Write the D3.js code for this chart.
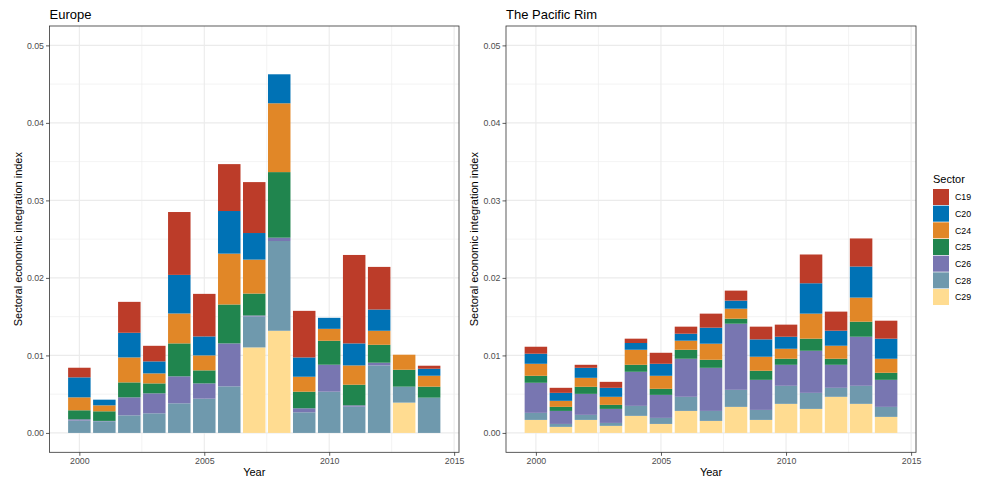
<!DOCTYPE html>
<html>
<head>
<meta charset="utf-8">
<script src="https://cdn.jsdelivr.net/npm/d3@7"></script>
<style>
  body { margin: 0; background: #fff; }
  svg { font-family: "Liberation Sans", Arial, Helvetica, sans-serif; display: block; }
</style>
</head>
<body>
<div id="chart"></div>
<script>
const YEARS = [2000, 2001, 2002, 2003, 2004, 2005, 2006, 2007, 2008, 2009, 2010, 2011, 2012, 2013, 2014];
const SECTORS = ["C19", "C20", "C24", "C25", "C26", "C28", "C29"];
const SECTOR_COLORS = ["#BC3C29", "#0072B5", "#E18727", "#20854E", "#7876B1", "#6F99AD", "#FFDC91"];
const Y_TICKS = [0, 0.01, 0.02, 0.03, 0.04, 0.05];
const X_TICKS = [2000, 2005, 2010, 2015];

// segment values per sector, one entry per year
const EUROPE_C19 = [0.00124, 0, 0.00399, 0.00201, 0.00811, 0.00549, 0.00605, 0.00657, 0, 0.00601, 0, 0.01141, 0.0055, 0, 0.00039];
const EUROPE_C20 = [0.00258, 0.00073, 0.00318, 0.00155, 0.00498, 0.00245, 0.0055, 0.00343, 0.00374, 0.00249, 0.00142, 0.00284, 0.00274, 0, 0.0009];
const EUROPE_C24 = [0.00167, 0.00077, 0.00322, 0.00129, 0.00386, 0.00193, 0.00656, 0.00438, 0.00888, 0.00193, 0.00154, 0.00249, 0.00181, 0.00194, 0.00141];
const EUROPE_C25 = [0.00116, 0.00124, 0.00193, 0.00128, 0.00425, 0.00168, 0.00502, 0.00283, 0.00846, 0.00214, 0.00309, 0.00266, 0.00231, 0.00218, 0.00142];
const EUROPE_C26 = [0.00017, 0.00005, 0.00232, 0.00258, 0.00348, 0.00197, 0.00554, 0.00013, 0.00043, 0.00052, 0.00348, 0.00017, 0.00035, 0, 0];
const EUROPE_C28 = [0.00159, 0.0015, 0.00227, 0.00253, 0.00382, 0.00442, 0.00601, 0.00399, 0.01158, 0.00266, 0.00532, 0.00339, 0.00871, 0.00206, 0.00455];
const EUROPE_C29 = [0, 0, 0, 0, 0, 0, 0, 0.01103, 0.01318, 0, 0, 0, 0, 0.00391, 0];

const PACIFIC_C19 = [0.0009, 0.00065, 0.00039, 0.00077, 0.00056, 0.00142, 0.00091, 0.00181, 0.00129, 0.00164, 0.00156, 0.00371, 0.00246, 0.00362, 0.00232];
const PACIFIC_C20 = [0.0013, 0.00103, 0.00129, 0.00116, 0.00087, 0.00155, 0.0009, 0.00207, 0.00104, 0.00224, 0.00155, 0.00392, 0.00194, 0.00401, 0.00259];
const PACIFIC_C24 = [0.00155, 0.00078, 0.00116, 0.00104, 0.00194, 0.00168, 0.00117, 0.00207, 0.00129, 0.00181, 0.00129, 0.00323, 0.00168, 0.00311, 0.00181];
const PACIFIC_C25 = [0.0009, 0.00052, 0.00091, 0.00052, 0.0009, 0.00078, 0.00116, 0.00104, 0.00065, 0.00117, 0.00078, 0.00156, 0.00078, 0.00194, 0.00091];
const PACIFIC_C26 = [0.00388, 0.00168, 0.00271, 0.00181, 0.0044, 0.00297, 0.00491, 0.00556, 0.00853, 0.00388, 0.00271, 0.00543, 0.00297, 0.00633, 0.00349];
const PACIFIC_C28 = [0.00091, 0.00038, 0.00065, 0.00038, 0.00129, 0.00078, 0.00182, 0.00129, 0.0022, 0.00129, 0.00233, 0.00207, 0.00116, 0.00233, 0.00129];
const PACIFIC_C29 = [0.00168, 0.00078, 0.00168, 0.00091, 0.0022, 0.00116, 0.00284, 0.00155, 0.00336, 0.00168, 0.00375, 0.0031, 0.00466, 0.00375, 0.00207];

const PANELS = [
  { title: "Europe", series: [EUROPE_C19, EUROPE_C20, EUROPE_C24, EUROPE_C25, EUROPE_C26, EUROPE_C28, EUROPE_C29], left: 49.5, right: 459 },
  { title: "The Pacific Rim", series: [PACIFIC_C19, PACIFIC_C20, PACIFIC_C24, PACIFIC_C25, PACIFIC_C26, PACIFIC_C28, PACIFIC_C29], left: 506, right: 916 }
];

const W = 984, H = 479;
const TOP = 26, BOTTOM = 452.3;
const BAR_W = 0.9;

const svg = d3.select("#chart").append("svg")
  .attr("width", W)
  .attr("height", H);

const color = d3.scaleOrdinal().domain(SECTORS).range(SECTOR_COLORS);

// ggplot-like 5% expansion
const xmin = YEARS[0] - BAR_W / 2, xmax = YEARS[YEARS.length - 1] + BAR_W / 2;
const xpad = (xmax - xmin) * 0.05;
const y = d3.scaleLinear().domain([-0.0025, 0.0525]).range([BOTTOM, TOP]);

// stack bottom to top: C29 ... C19
const stackKeys = SECTORS.slice().reverse();

PANELS.forEach(p => {
  const x = d3.scaleLinear().domain([xmin - xpad, xmax + xpad]).range([p.left, p.right]);
  const g = svg.append("g");

  const rows = YEARS.map((yr, i) => {
    const r = { year: yr };
    SECTORS.forEach((s, k) => { r[s] = p.series[k][i]; });
    return r;
  });

  // background + grid
  g.append("rect")
    .attr("x", p.left).attr("y", TOP)
    .attr("width", p.right - p.left).attr("height", BOTTOM - TOP)
    .attr("fill", "#fff");

  const minorY = Y_TICKS.slice(0, -1).map(t => t + 0.005);
  const minorX = X_TICKS.slice(0, -1).map(t => t + 2.5);

  g.selectAll(".gyminor").data(minorY).enter().append("line")
    .attr("x1", p.left).attr("x2", p.right)
    .attr("y1", d => y(d)).attr("y2", d => y(d))
    .attr("stroke", "#ebebeb").attr("stroke-width", 0.6);
  g.selectAll(".gxminor").data(minorX).enter().append("line")
    .attr("y1", TOP).attr("y2", BOTTOM)
    .attr("x1", d => x(d)).attr("x2", d => x(d))
    .attr("stroke", "#ebebeb").attr("stroke-width", 0.6);
  g.selectAll(".gymajor").data(Y_TICKS).enter().append("line")
    .attr("x1", p.left).attr("x2", p.right)
    .attr("y1", d => y(d)).attr("y2", d => y(d))
    .attr("stroke", "#ebebeb").attr("stroke-width", 1.1);
  g.selectAll(".gxmajor").data(X_TICKS).enter().append("line")
    .attr("y1", TOP).attr("y2", BOTTOM)
    .attr("x1", d => x(d)).attr("x2", d => x(d))
    .attr("stroke", "#ebebeb").attr("stroke-width", 1.1);

  // bars
  const stacked = d3.stack().keys(stackKeys)(rows);
  const layers = g.selectAll(".layer").data(stacked).enter().append("g")
    .attr("fill", d => color(d.key));
  layers.selectAll("rect").data(d => d.filter(v => v[1] - v[0] > 0)).enter().append("rect")
    .attr("x", d => x(d.data.year - BAR_W / 2))
    .attr("width", d => x(d.data.year + BAR_W / 2) - x(d.data.year - BAR_W / 2))
    .attr("y", d => y(d[1]))
    .attr("height", d => y(d[0]) - y(d[1]));

  // border
  g.append("rect")
    .attr("x", p.left).attr("y", TOP)
    .attr("width", p.right - p.left).attr("height", BOTTOM - TOP)
    .attr("fill", "none").attr("stroke", "#333").attr("stroke-width", 0.8);

  // axes
  const yAxis = d3.axisLeft(y).tickValues(Y_TICKS).tickFormat(d3.format(".2f")).tickSize(3.5).tickPadding(2);
  const ya = g.append("g").attr("transform", `translate(${p.left},0)`).call(yAxis);
  const xAxis = d3.axisBottom(x).tickValues(X_TICKS).tickFormat(d3.format("d")).tickSize(3.5).tickPadding(2);
  const xa = g.append("g").attr("transform", `translate(0,${BOTTOM})`).call(xAxis);
  [ya, xa].forEach(a => {
    a.select(".domain").remove();
    a.selectAll(".tick line").attr("stroke", "#333").attr("stroke-width", 0.8);
    a.selectAll(".tick text").attr("fill", "#4d4d4d").style("font-size", "8.8px")
      .style("font-family", '"Liberation Sans", Arial, sans-serif');
  });

  // titles
  g.append("text")
    .attr("x", p.left).attr("y", 19)
    .attr("font-size", 13).attr("fill", "#000")
    .text(p.title);
  g.append("text")
    .attr("x", (p.left + p.right) / 2).attr("y", 476)
    .attr("text-anchor", "middle").attr("font-size", 11).attr("fill", "#000")
    .text("Year");
  g.append("text")
    .attr("transform", `translate(${p.left - 28},${(TOP + BOTTOM) / 2}) rotate(-90)`)
    .attr("text-anchor", "middle").attr("font-size", 11).attr("fill", "#000")
    .text("Sectoral economic integration index");
});

// legend
const legend = svg.append("g").attr("transform", "translate(933,0)");
legend.append("text").attr("x", 0).attr("y", 182.5)
  .attr("font-size", 11).attr("fill", "#000").text("Sector");
const item = legend.selectAll(".item").data(SECTORS).enter().append("g")
  .attr("transform", (d, i) => `translate(0,${189 + i * 16.67})`);
item.append("rect")
  .attr("width", 16).attr("height", 16)
  .attr("fill", d => color(d));
item.append("text")
  .attr("x", 22).attr("y", 11.3)
  .attr("font-size", 8.8).attr("fill", "#000")
  .text(d => d);
</script>
</body>
</html>
